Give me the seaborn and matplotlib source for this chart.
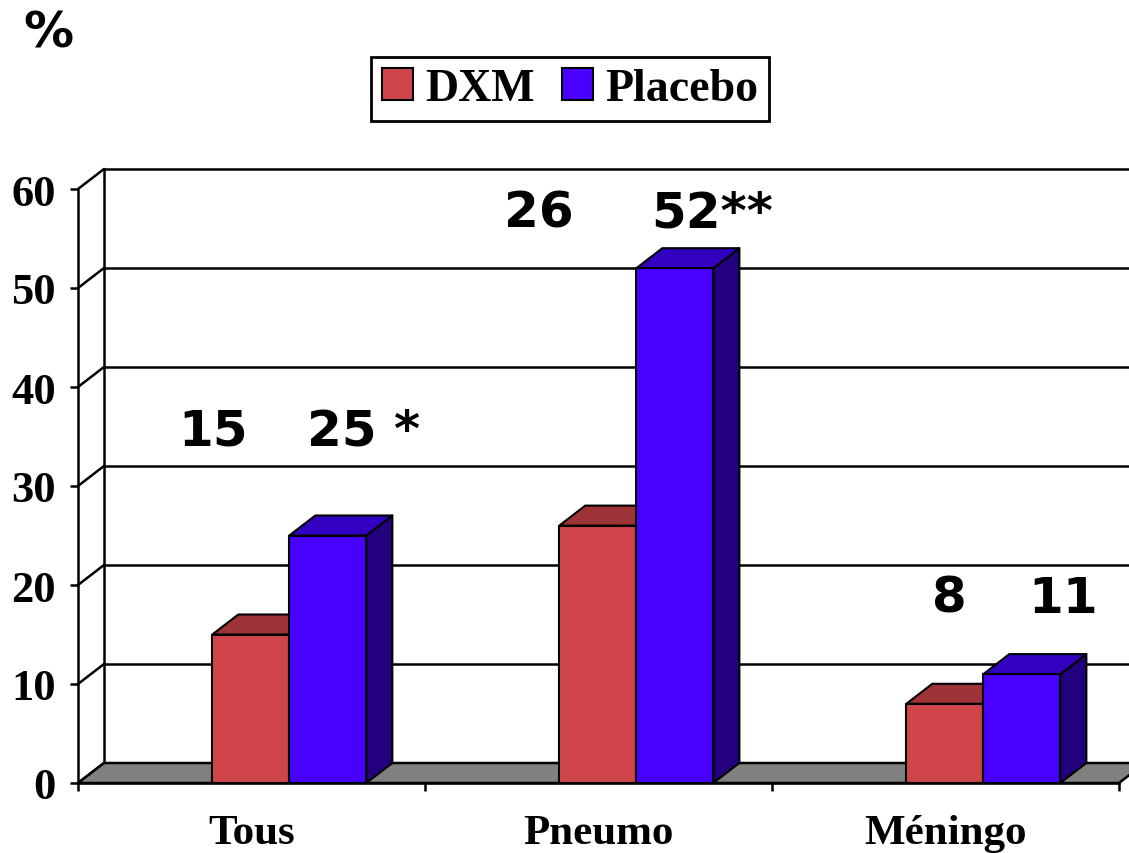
import numpy as np
import pandas as pd
import matplotlib
matplotlib.use("Agg")
import matplotlib.pyplot as plt
from matplotlib.patches import Polygon, Patch
from matplotlib.lines import Line2D
import seaborn as sns

# ---- data ----
categories = ["Tous", "Pneumo", "Méningo"]
groups = ["DXM", "Placebo"]
dxm_values = [15, 26, 8]
placebo_values = [25, 52, 11]
dxm_marks = ["", "", ""]
placebo_marks = [" *", "**", ""]
y_ticks = [0, 10, 20, 30, 40, 50, 60]

# ---- styling ----
front_colors = {"DXM": "#D0454A", "Placebo": "#4800FF"}
top_colors = {"DXM": "#9E3437", "Placebo": "#3300C2"}
side_colors = {"DXM": "#7A2629", "Placebo": "#22007E"}
floor_color = "#808080"
depth_px = (26, 20)          # receding offset of the pseudo-3D depth, in pixels
line_w = 1.8
bar_shift = 0.109            # bars sit right of the category slot centre

# value-label anchors (x, baseline y, alignment) in data units
dxm_label_pos = [(-0.220, 34.2, "center"), (0.720, 56.2, "center"), (1.901, 17.3, "center")]
placebo_label_pos = [(0.050, 34.2, "left"), (1.044, 56.2, "left"), (2.230, 17.3, "center")]

df = pd.DataFrame({
    "categorie": categories * 2,
    "groupe": [groups[0]] * len(categories) + [groups[1]] * len(categories),
    "valeur": dxm_values + placebo_values,
})

sns.set_theme(style="white")
plt.rcParams["font.family"] = ["Liberation Serif", "DejaVu Serif"]
plt.rcParams["text.color"] = "black"
plt.rcParams["xtick.color"] = "black"
plt.rcParams["ytick.color"] = "black"

W, H = 1129, 854
fig = plt.figure(figsize=(W / 100, H / 100), dpi=100)
ax = fig.add_axes([78 / W, 1 - 784 / H, 1041 / W, 594 / H])

sns.barplot(data=df, x="categorie", y="valeur", hue="groupe",
            order=categories, hue_order=groups, palette=front_colors,
            width=0.444, saturation=1, errorbar=None, legend=False,
            edgecolor="black", linewidth=1.5, zorder=4, ax=ax)

ax.set_xlim(-0.5 - bar_shift, len(categories) - 0.5 - bar_shift)
ax.set_ylim(0, 60)


def back(x, y):
    """Project a front-plane data point onto the receding plane."""
    px, py = ax.transData.transform((x, y))
    return tuple(ax.transData.inverted().transform((px + depth_px[0], py + depth_px[1])))


x0, x1 = ax.get_xlim()

# back wall: gridlines, joins to the front axis, left edge
for t in y_ticks:
    bl = back(x0, t)
    br = back(x1, t)
    if t > 0:
        ax.add_line(Line2D([bl[0], br[0]], [bl[1], br[1]], color="black",
                           lw=line_w, zorder=1, clip_on=False))
    ax.add_line(Line2D([x0, bl[0]], [t, bl[1]], color="black",
                       lw=line_w, zorder=1, clip_on=False))
b0 = back(x0, 0)
b6 = back(x0, max(y_ticks))
ax.add_line(Line2D([b0[0], b6[0]], [b0[1], b6[1]], color="black",
                   lw=line_w, zorder=1, clip_on=False))

# floor
floor = Polygon([(x0, 0), (x1, 0), back(x1, 0), back(x0, 0)], closed=True,
                facecolor=floor_color, edgecolor="black", lw=line_w,
                zorder=2, clip_on=False)
ax.add_patch(floor)

# depth faces of each bar
for grp, cont in zip(groups, ax.containers):
    for bar in cont:
        bx, bw, bh = bar.get_x(), bar.get_width(), bar.get_height()
        top = Polygon([(bx, bh), (bx + bw, bh), back(bx + bw, bh), back(bx, bh)],
                      closed=True, facecolor=top_colors[grp], edgecolor="black",
                      lw=1.5, zorder=3, clip_on=False, joinstyle="round")
        side = Polygon([(bx + bw, 0), (bx + bw, bh), back(bx + bw, bh), back(bx + bw, 0)],
                       closed=True, facecolor=side_colors[grp], edgecolor="black",
                       lw=1.5, zorder=3, clip_on=False, joinstyle="round")
        ax.add_patch(side)
        ax.add_patch(top)

# value labels
label_font = dict(family="DejaVu Sans", weight="bold", size=36, color="black")
for vals, marks, pos in ((dxm_values, dxm_marks, dxm_label_pos),
                         (placebo_values, placebo_marks, placebo_label_pos)):
    for v, m, (lx, ly, ha) in zip(vals, marks, pos):
        ax.text(lx, ly, f"{v:g}{m}", ha=ha, va="baseline", zorder=6,
                clip_on=False, **label_font)

# axes
for s in ("top", "right"):
    ax.spines[s].set_visible(False)
for s in ("left", "bottom"):
    ax.spines[s].set_visible(True)
    ax.spines[s].set_color("black")
    ax.spines[s].set_linewidth(line_w)
    ax.spines[s].set_zorder(5)

ax.set_yticks(y_ticks)
ax.set_yticklabels([str(t) for t in y_ticks])
slot_centres = np.arange(len(categories)) - bar_shift
ax.set_xticks(slot_centres)
ax.set_xticklabels(categories)
ax.set_xticks(np.append(slot_centres - 0.5, slot_centres[-1] + 0.5), minor=True)
ax.tick_params(axis="y", left=True, direction="out", length=6, width=line_w,
               pad=10, labelsize=32, color="black", labelcolor="black")
ax.tick_params(axis="x", which="major", bottom=True, length=0, pad=22, labelsize=31,
               labelcolor="black")
ax.tick_params(axis="x", which="minor", bottom=True, direction="out", length=6,
               width=line_w, color="black")
for lab in ax.get_xticklabels() + ax.get_yticklabels():
    lab.set_fontweight("bold")
ax.set_xlabel("")
ax.set_ylabel("")
ax.grid(False)
ax.patch.set_alpha(0)

# legend
handles = [Patch(facecolor=front_colors[g], edgecolor="black", lw=1.5) for g in groups]
leg = fig.legend(handles, groups, loc="center", bbox_to_anchor=(570 / W, 1 - 90 / H),
                 ncol=2, frameon=True, fancybox=False, edgecolor="black", framealpha=1,
                 prop=dict(family="Liberation Serif", weight="bold", size=33),
                 handlelength=0.68, handleheight=0.68, handletextpad=0.25,
                 columnspacing=0.6, borderpad=0.25, borderaxespad=0, labelcolor="black")
leg.get_frame().set_linewidth(2)

fig.text(23 / W, 1 - 47 / H, "%", family="DejaVu Sans", weight="bold", size=36,
         ha="left", va="baseline", color="black")

fig.savefig("out.png", dpi=100)
